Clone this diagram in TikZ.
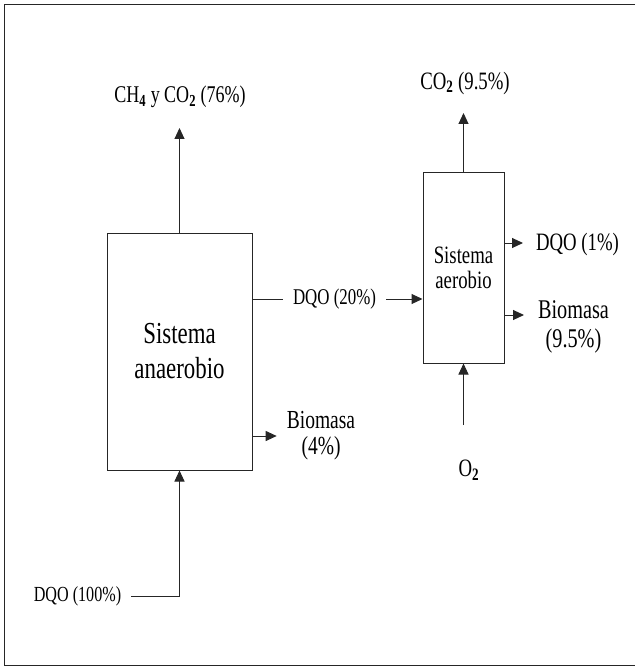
\documentclass[tikz,border=0pt]{standalone}
\usepackage{fontspec}
\setmainfont{Liberation Serif}[FakeStretch=0.75]
\usetikzlibrary{arrows.meta}
\newcommand{\fs}[2]{\fontsize{#1}{#2}\selectfont}
\newcommand{\sbb}[1]{\textsubscript{\textbf{#1}}}
\begin{document}
\begin{tikzpicture}[x=1pt,y=-1pt,
  line/.style={line width=1pt, draw=black!85},
  arr/.style={line, -{Triangle[length=11pt,width=10pt]}},
  sysbox/.style={line, rectangle, inner sep=0pt, align=center},
  lbl/.style={inner sep=0pt, align=center}]
\useasboundingbox (0,0) rectangle (635,668);
% frame
\draw[line] (635,5) -- (4,5) -- (4,665) -- (635,665);

% boxes
\node[sysbox, minimum width=145pt, minimum height=237pt, font=\fs{30.5}{35}] (anae) at (179.5,351.5) {Sistema\\anaerobio};
\node[sysbox, minimum width=81pt, minimum height=190pt, font=\fs{25}{25}] (aero) at (463.5,268) {Sistema\\aerobio};

% labels
\node[lbl, font=\fs{24}{26}] (ch4) at (180,97) {CH\sbb{4} y CO\sbb{2} (76\%)};
\node[lbl, font=\fs{25}{26}] (co2) at (465,83) {CO\sbb{2} (9.5\%)};
\node[lbl, font=\fs{22.5}{26}, inner xsep=10pt] (dqo20) at (334.5,299) {DQO (20\%)};
\node[lbl, font=\fs{25}{26}] (dqo1) at (577.5,244) {DQO (1\%)};
\node[lbl, font=\fs{26}{26}, inner xsep=10pt] (bio4) at (321,436) {Biomasa\\(4\%)};
\node[lbl, font=\fs{27}{29}] (bio95) at (573.5,327) {Biomasa\\(9.5\%)};
\node[lbl, font=\fs{21.5}{26}, inner xsep=10pt] (dqo100) at (77.5,596) {DQO (100\%)};
\node[lbl, font=\fs{25}{26}] (o2) at (469,470) {O\sbb{2}};

% connector ends
\coordinate (t1) at (179.5,128);
\coordinate (t2) at (463.5,113);
\coordinate (b2) at (463.5,425);
\coordinate (e1) at (523,243);
\coordinate (e2) at (524,315);

% connectors
\draw[arr] (anae.north) -- (t1);
\draw[line] (anae.east |- dqo20) -- (dqo20.west);
\draw[arr] (dqo20.east) -- (aero.west |- dqo20);
\draw[arr] (anae.east |- bio4) -- (bio4.west);
\draw[arr] (dqo100.east) -| (anae.south);
\draw[arr] (aero.north) -- (t2);
\draw[arr] (aero.east |- e1) -- (e1);
\draw[arr] (aero.east |- e2) -- (e2);
\draw[arr] (b2) -- (aero.south);
\end{tikzpicture}
\end{document}
